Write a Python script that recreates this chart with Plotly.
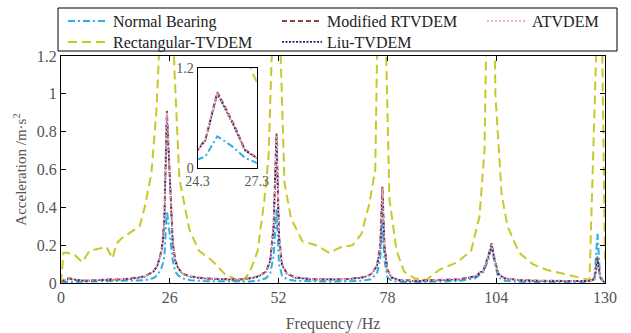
import plotly.graph_objects as go

# ---------------- data ----------------
freq = [0, 1, 2, 4, 6, 8, 10, 12, 14, 16, 18, 20, 22, 23, 24, 24.3, 24.7, 25.3, 25.5, 26.1,
        26.7, 27.3, 28, 29, 31, 34, 38, 42, 45, 47, 49, 50, 50.8, 51.5, 52.1, 52.8, 54, 56, 60, 64,
        68, 72, 74, 75.5, 76.3, 76.8, 77.3, 78, 79, 81, 85, 90, 95, 99, 101, 102.2, 102.9, 103.6, 104.5, 106,
        110, 115, 120, 124, 126, 127.5, 128.2, 128.8, 129.5, 130]

normal = [0.0, 0.005, 0.005, 0.006, 0.005, 0.006, 0.007, 0.008, 0.009, 0.01, 0.012, 0.015, 0.025, 0.04, 0.08, 0.10, 0.14, 0.38, 0.35, 0.25,
          0.12, 0.06, 0.04, 0.025, 0.015, 0.01, 0.008, 0.007, 0.008, 0.012, 0.025, 0.05, 0.14, 0.39, 0.10, 0.04, 0.02, 0.012, 0.008, 0.007,
          0.008, 0.012, 0.02, 0.05, 0.13, 0.32, 0.12, 0.03, 0.012, 0.006, 0.005, 0.006, 0.01, 0.025, 0.06, 0.13, 0.19, 0.11, 0.03, 0.012,
          0.006, 0.005, 0.005, 0.005, 0.006, 0.03, 0.26, 0.05, 0.01, 0.005]

modified = [0.0, 0.022, 0.025, 0.015, 0.012, 0.015, 0.018, 0.02, 0.018, 0.022, 0.028, 0.035, 0.06, 0.09, 0.17, 0.22, 0.34, 0.91, 0.82, 0.54,
            0.22, 0.12, 0.08, 0.05, 0.035, 0.025, 0.02, 0.018, 0.025, 0.035, 0.06, 0.12, 0.30, 0.79, 0.25, 0.10, 0.05, 0.03, 0.02, 0.018,
            0.02, 0.03, 0.045, 0.09, 0.20, 0.51, 0.20, 0.07, 0.03, 0.015, 0.012, 0.015, 0.02, 0.035, 0.07, 0.15, 0.21, 0.13, 0.05, 0.025,
            0.015, 0.012, 0.012, 0.01, 0.01, 0.02, 0.14, 0.03, 0.01, 0.005]

liu = [0.0, 0.015, 0.02, 0.014, 0.012, 0.014, 0.016, 0.018, 0.017, 0.02, 0.026, 0.033, 0.058, 0.088, 0.165, 0.21, 0.33, 0.89, 0.80, 0.52,
       0.21, 0.115, 0.078, 0.048, 0.033, 0.024, 0.019, 0.017, 0.023, 0.033, 0.058, 0.115, 0.29, 0.77, 0.24, 0.095, 0.048, 0.028, 0.019, 0.017,
       0.019, 0.028, 0.043, 0.088, 0.19, 0.49, 0.19, 0.068, 0.028, 0.014, 0.011, 0.014, 0.019, 0.033, 0.068, 0.145, 0.20, 0.125, 0.048, 0.024,
       0.014, 0.011, 0.011, 0.01, 0.01, 0.018, 0.11, 0.028, 0.01, 0.005]

atvdem = [0.0, 0.018, 0.022, 0.016, 0.013, 0.015, 0.017, 0.019, 0.018, 0.021, 0.027, 0.034, 0.059, 0.089, 0.168, 0.215, 0.335, 0.90, 0.81, 0.53,
          0.215, 0.118, 0.079, 0.049, 0.034, 0.025, 0.02, 0.018, 0.024, 0.034, 0.059, 0.118, 0.295, 0.78, 0.245, 0.098, 0.049, 0.029, 0.02, 0.018,
          0.02, 0.029, 0.044, 0.089, 0.195, 0.50, 0.195, 0.069, 0.029, 0.015, 0.012, 0.015, 0.02, 0.034, 0.069, 0.148, 0.205, 0.128, 0.049, 0.025,
          0.015, 0.012, 0.012, 0.01, 0.01, 0.019, 0.10, 0.029, 0.01, 0.005]

rect_freq = [0, 0.3, 0.6, 1.5, 3.2, 5.1, 6.8, 8.7, 10.9, 12.3, 13.3, 14.7, 16.8, 18.8, 20, 21.6, 22.8, 23.5, 24.2, 25.3,
             26.4, 27.1, 28.3, 30.7, 33, 36, 39, 42, 43, 45, 47, 48.6, 49.6, 50.5, 51.5, 52.5, 53.4, 55, 57.7, 61,
             64, 67, 69.7, 71.8, 73.7, 75.1, 76.2, 76.8, 77.6, 78.5, 80.2, 82, 84.5, 87.3, 90.4, 94.7, 98, 100, 101.2, 102,
             102.9, 103.8, 105.3, 106.7, 109.5, 112.7, 116, 119.8, 124, 126.3, 128, 128.7, 129.3, 130]
rect = [0.0, 0.10, 0.16, 0.16, 0.15, 0.11, 0.17, 0.18, 0.19, 0.13, 0.21, 0.24, 0.27, 0.30, 0.40, 0.58, 0.91, 1.15, 1.6, 3.0,
        1.6, 1.13, 0.55, 0.28, 0.17, 0.12, 0.05, 0.016, 0.005, 0.05, 0.17, 0.44, 0.67, 1.3, 3.0, 1.2, 0.53, 0.34, 0.22, 0.20,
        0.16, 0.19, 0.20, 0.26, 0.42, 0.60, 1.3, 3.0, 1.3, 0.44, 0.17, 0.06, 0.025, 0.016, 0.07, 0.11, 0.17, 0.35, 0.70, 1.3,
        3.0, 1.0, 0.47, 0.30, 0.16, 0.10, 0.07, 0.05, 0.03, 0.016, 1.3, 3.0, 1.3, 0.12]

x_ticks = [0, 26, 52, 78, 104, 130]
y_ticks = [0, 0.2, 0.4, 0.6, 0.8, 1, 1.2]
y_tick_text = ["0", "0.2", "0.4", "0.6", "0.8", "1", "1.2"]
inset_x_ticks = [24.3, 27.3]
inset_y_ticks = [0, 1.2]

# ---------------- styles ----------------
C_NORMAL = "#2eaee6"
C_RECT = "#c9c828"
C_MOD = "#8c4a3a"
C_LIU = "#20207a"
C_ATV = "#f2a0b4"
FONT = "Liberation Serif"

# (name, x, y, line, legend id)
series = [
    ("Rectangular-TVDEM", rect_freq, rect, dict(color=C_RECT, width=2, dash="9px,5px"), "legend4"),
    ("Normal Bearing", freq, normal, dict(color=C_NORMAL, width=2, dash="7px,3px,2px,3px"), "legend"),
    ("Modified RTVDEM", freq, modified, dict(color=C_MOD, width=2, dash="5px,3px"), "legend2"),
    ("Liu-TVDEM", freq, liu, dict(color=C_LIU, width=1.6, dash="2px,1.5px"), "legend5"),
    ("ATVDEM", freq, atvdem, dict(color=C_ATV, width=1.6, dash="2px,2px"), "legend3"),
]

fig = go.Figure()
for name, xs, ys, ln, lg in series:
    fig.add_trace(go.Scatter(x=xs, y=ys, mode="lines", name=name, line=ln,
                             legend=lg, xaxis="x", yaxis="y"))
for name, xs, ys, ln, lg in series:
    fig.add_trace(go.Scatter(x=xs, y=ys, mode="lines", name=name, line=ln,
                             showlegend=False, xaxis="x2", yaxis="y2"))

axis_common = dict(showline=True, linecolor="black", linewidth=1, mirror="ticks",
                   ticks="inside", ticklen=5, tickcolor="black", showgrid=False,
                   zeroline=False, automargin=False,
                   tickfont=dict(family=FONT, size=16, color="#555"))

# plot area: l=61, w=544, t=56, h=227
def px_x(p):
    return (p - 61) / 544.0

def px_y(p):
    return (283 - p) / 227.0

leg_common = dict(orientation="v", yanchor="top", xanchor="left", bgcolor="rgba(0,0,0,0)",
                  borderwidth=0, font=dict(family=FONT, size=16, color="#222"),
                  itemwidth=40, tracegroupgap=0, traceorder="normal")

col_x = [63, 277, 482]
row_y = [4, 25]

fig.update_layout(
    width=631, height=333,
    margin=dict(l=61, r=26, t=56, b=50, autoexpand=False),
    plot_bgcolor="white", paper_bgcolor="white",
    showlegend=True,
    legend=dict(x=px_x(col_x[0]), y=px_y(row_y[0]), **leg_common),
    legend2=dict(x=px_x(col_x[1]), y=px_y(row_y[0]), **leg_common),
    legend3=dict(x=px_x(col_x[2]), y=px_y(row_y[0]), **leg_common),
    legend4=dict(x=px_x(col_x[0]), y=px_y(row_y[1]), **leg_common),
    legend5=dict(x=px_x(col_x[1]), y=px_y(row_y[1]), **leg_common),
    xaxis=dict(range=[0, 130], tickvals=x_ticks, ticktext=[str(v) for v in x_ticks],
               title=dict(text="Frequency /Hz", font=dict(family=FONT, size=16, color="#555"), standoff=12),
               **axis_common),
    yaxis=dict(range=[0, 1.2], tickvals=y_ticks, ticktext=y_tick_text,
               title=dict(text="Acceleration /m·s<sup>2</sup>", font=dict(family=FONT, size=15, color="#555"), standoff=6),
               **axis_common),
    xaxis2=dict(domain=[0.251, 0.360], anchor="y2", range=[24.3, 27.3], tickvals=inset_x_ticks,
                ticktext=["24.3", "27.3"], showline=True, linecolor="black", linewidth=1, mirror=True,
                ticks="", showgrid=False, zeroline=False, automargin=False,
                tickfont=dict(family=FONT, size=14, color="#555")),
    yaxis2=dict(domain=[0.507, 0.947], anchor="x2", range=[0, 1.2], tickvals=inset_y_ticks,
                ticktext=["0", "1.2"], showline=True, linecolor="black", linewidth=1, mirror=True,
                ticks="", showgrid=False, zeroline=False, ticklabelstandoff=0, automargin=False,
                tickfont=dict(family=FONT, size=14, color="#555")),
)
# white background behind inset
fig.add_shape(type="rect", xref="x2 domain", yref="y2 domain", x0=0, x1=1, y0=0, y1=1,
              fillcolor="white", line=dict(width=0), layer="below")
# legend frame
fig.add_shape(type="rect", xref="paper", yref="paper", x0=px_x(58), x1=px_x(617),
              y0=px_y(51), y1=px_y(8), line=dict(color="black", width=1), fillcolor="rgba(0,0,0,0)")

fig.write_html("out.html")
